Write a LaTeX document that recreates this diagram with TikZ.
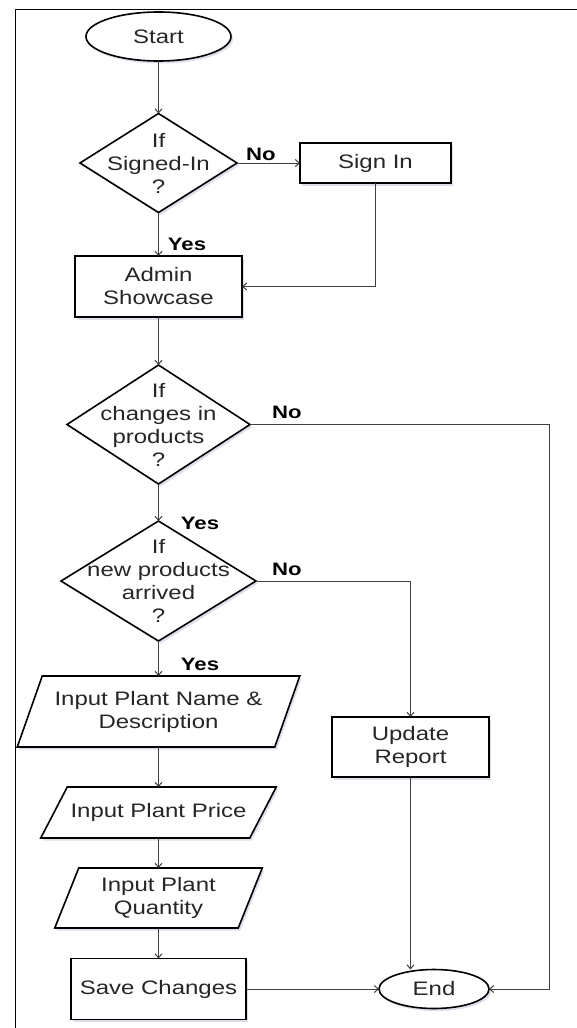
\documentclass[tikz,border=0pt]{standalone}
\usepackage{fontspec}
\setmainfont{Liberation Sans}[FakeStretch=1.23]
\usetikzlibrary{shapes.geometric,arrows.meta,shadows,backgrounds}
% centred text of zero size, so that a diamond keeps the size it is given
\newcommand\zerobox[1]{\makebox[0pt][c]{\raisebox{-0.4em}[0pt][0pt]{\begin{tabular}[c]{@{}c@{}}#1\end{tabular}}}}
% parallelogram outline around an input node: name, horizontal slant
\newcommand\slantoutline[2]{%
  \path[outline] ([xshift=-#2/2]#1.south west) -- ([xshift=#2/2]#1.north west)
    -- ([xshift=#2/2]#1.north east) -- ([xshift=-#2/2]#1.south east) -- cycle;}
\begin{document}
\begin{tikzpicture}[x=1pt,y=-1pt,
  font=\fontsize{19.5}{23}\selectfont,
  shadowed/.style={drop shadow={shadow xshift=2pt,shadow yshift=-2.5pt,opacity=.45,fill=blue!25!gray!45}},
  outline/.style={draw=black,line width=1.6pt,fill=white,line join=miter,shadowed},
  box/.style={outline,inner sep=0pt,outer sep=0pt,align=center,text=black!85},
  term/.style={box,ellipse},
  proc/.style={box,rectangle},
  decide/.style={box,diamond},
  io/.style={inner sep=0pt,outer sep=0pt,align=center,text=black!85,rectangle},
  lbl/.style={font=\fontsize{18}{20}\selectfont\bfseries,text=black,inner sep=0pt},
  conn/.style={draw=black!75,line width=1pt,-{Straight Barb[length=4pt,width=7pt]}}]

\begin{pgfonlayer}{background}
\fill[white] (0,0) rectangle (577,1028);
\end{pgfonlayer}
\useasboundingbox (0,0) rectangle (577,1028);

% page frame
\draw[line width=1.6pt] (15.5,1028) -- (15.5,9.5) -- (577,9.5);

% main column
\node[term,minimum width=145,minimum height=49] (start) at (158.5,36.5) {Start};
\node[decide,minimum width=157,minimum height=99] (d1) at (158.5,163) {\zerobox{If\\Signed-In\\?}};
\node[proc,minimum width=151,minimum height=40] (sign) at (375.5,163) {Sign In};
\node[proc,minimum width=167,minimum height=61] (admin) at (158.5,286.5) {Admin\\Showcase};
\node[decide,minimum width=183,minimum height=119] (d2) at (158.5,424.5) {\zerobox{If\\changes in\\products\\?}};
\node[decide,minimum width=195,minimum height=120] (d3) at (158.5,581) {\zerobox{If\\new products\\arrived\\?}};
\node[io,minimum width=257.5,minimum height=71] (p1) at (158.5,711.5) {Input Plant Name \&\\Description};
\node[io,minimum width=209,minimum height=51] (p2) at (158.5,812.5) {Input Plant Price};
\node[io,minimum width=183.5,minimum height=60] (p3) at (158.5,898) {Input Plant\\Quantity};
\node[proc,minimum width=175,minimum height=61] (save) at (158.5,989) {Save Changes};
\node[proc,minimum width=157,minimum height=60] (upd) at (410.5,747) {Update\\Report};
\node[term,minimum width=110,minimum height=39] (end) at (434,989) {End};
\coordinate (rail) at (549,424.5);

% input shapes, drawn behind their texts
\begin{pgfonlayer}{background}
\slantoutline{p1}{25}
\slantoutline{p2}{26.5}
\slantoutline{p3}{24}
\end{pgfonlayer}

% branch labels
\node[lbl] (no1) at (261,154) {No};
\node[lbl] (yes1) at (187,244) {Yes};
\node[lbl] (no2) at (287,412) {No};
\node[lbl] (yes2) at (200,523) {Yes};
\node[lbl] (no3) at (287,569) {No};
\node[lbl] (yes3) at (200,664) {Yes};

% connectors
\draw[conn] (start.south) -- (d1.north);
\draw[conn] (d1.east) -- (sign.west);
\draw[conn] (d1.south) -- (admin.north);
\draw[conn] (sign.south) |- (admin.east);
\draw[conn] (admin.south) -- (d2.north);
\draw[conn] (d2.east) -- (rail) |- (end.east);
\draw[conn] (d2.south) -- (d3.north);
\draw[conn] (d3.east) -| (upd.north);
\draw[conn] (d3.south) -- (p1.north);
\draw[conn] (p1.south) -- (p2.north);
\draw[conn] (p2.south) -- (p3.north);
\draw[conn] (p3.south) -- (save.north);
\draw[conn] (upd.south) -- (upd.south |- end.north);
\draw[conn] (save.east) -- (end.west);
\end{tikzpicture}
\end{document}
